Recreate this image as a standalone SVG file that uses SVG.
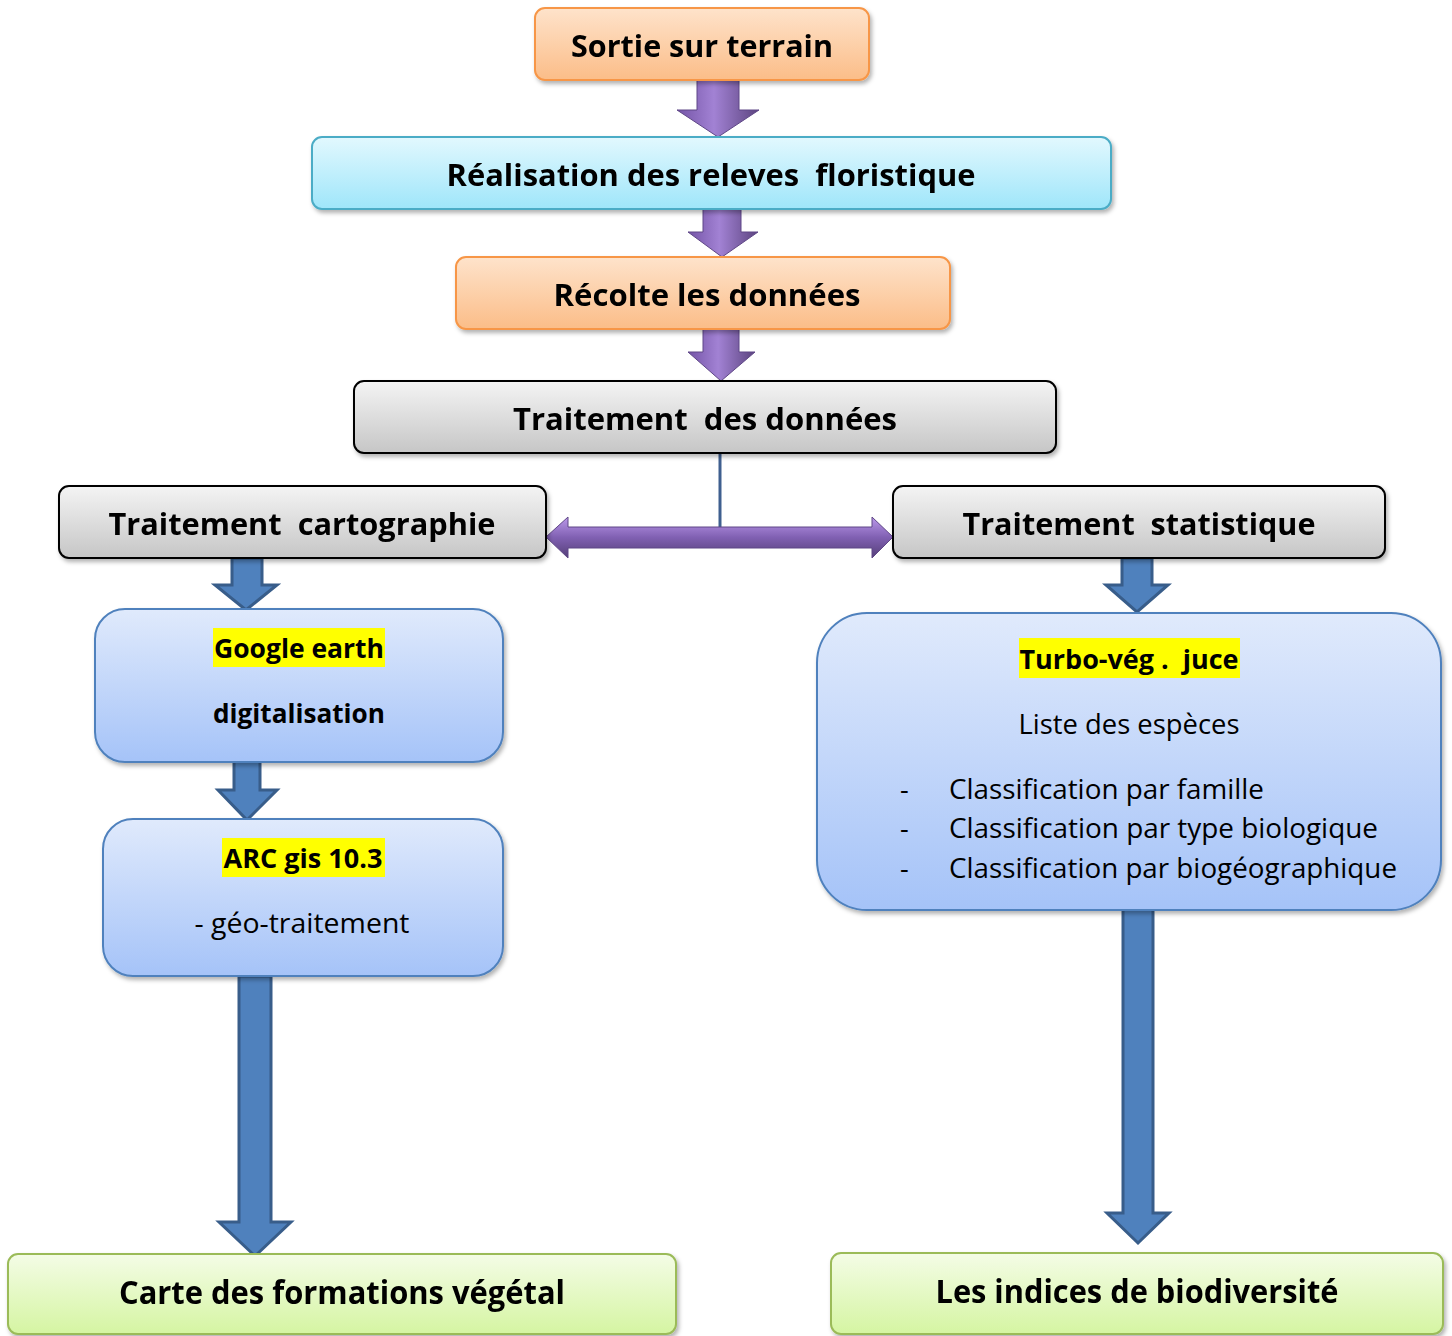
<svg xmlns="http://www.w3.org/2000/svg" width="1452" height="1336" viewBox="0 0 1452 1336">
<defs>
<linearGradient id="gOrange" x1="0" y1="0" x2="0" y2="1"><stop offset="0" stop-color="#fee3cb"/><stop offset="1" stop-color="#fbbd88"/></linearGradient>
<linearGradient id="gCyan" x1="0" y1="0" x2="0" y2="1"><stop offset="0" stop-color="#e2f8fe"/><stop offset="1" stop-color="#9fe6fa"/></linearGradient>
<linearGradient id="gGrey" x1="0" y1="0" x2="0" y2="1"><stop offset="0" stop-color="#f4f4f4"/><stop offset="1" stop-color="#c6c6c6"/></linearGradient>
<linearGradient id="gBlue" x1="0" y1="0" x2="0" y2="1"><stop offset="0" stop-color="#e0eafc"/><stop offset="1" stop-color="#a5c3f8"/></linearGradient>
<linearGradient id="gGreen" x1="0" y1="0" x2="0" y2="1"><stop offset="0" stop-color="#f4fce6"/><stop offset="1" stop-color="#d5f5a2"/></linearGradient>
<linearGradient id="gPurpleV" x1="0" y1="0" x2="1" y2="0"><stop offset="0" stop-color="#7454a6"/><stop offset="0.45" stop-color="#a282d4"/><stop offset="1" stop-color="#5c447f"/></linearGradient>
<linearGradient id="gPurpleH" x1="0" y1="0" x2="0" y2="1"><stop offset="0" stop-color="#bb98ea"/><stop offset="0.5" stop-color="#8060b2"/><stop offset="1" stop-color="#553f78"/></linearGradient>
<filter id="sh" x="-5%" y="-10%" width="110%" height="130%"><feDropShadow dx="2" dy="3" stdDeviation="2" flood-color="#000" flood-opacity="0.3"/></filter>
</defs>
<style>
.t{font-family:"Open Sans","Noto Sans","DejaVu Sans",sans-serif;fill:#000;white-space:pre}
.b{font-weight:bold}
.orange{fill:url(#gOrange);stroke:#f79646;stroke-width:2}
.cyan{fill:url(#gCyan);stroke:#4bacc6;stroke-width:2}
.grey{fill:url(#gGrey);stroke:#000;stroke-width:2}
.blue{fill:url(#gBlue);stroke:#4f81bd;stroke-width:2}
.green{fill:url(#gGreen);stroke:#9bbb59;stroke-width:2}
.pv{fill:url(#gPurpleV);stroke:#5f4787;stroke-width:1}
.ph{fill:url(#gPurpleH);stroke:#5f4787;stroke-width:1}
.ba{fill:#4f81bd;stroke:#385d8a;stroke-width:3}
.hl{fill:#ffff00}
</style>

<g id="connectors">
  <path class="pv" d="M697,80 H739 V110 H759 L718,137 L677,110 H697 Z"/>
  <path class="pv" d="M703,209 H741 V232 H758 L722,257 L688,232 H703 Z"/>
  <path class="pv" d="M703,329 H739 V352 H755 L721,381 L688,352 H703 Z"/>
  <line x1="720" y1="453" x2="720" y2="527" stroke="#3f5f8f" stroke-width="3"/>
  <path class="ph" d="M546,537 L568,517 V527 H872 V517 L893,537 L872,558 V548 H568 V558 Z"/>
  <path class="ba" d="M232,558 H262 V585 H277 L246,610 L215,585 H232 Z"/>
  <path class="ba" d="M234,760 H260 V790 H277 L247,820 L218,790 H234 Z"/>
  <path class="ba" d="M239,976 H271 V1222 H291 L255,1256 L219,1222 H239 Z"/>
  <path class="ba" d="M1122,558 H1152 V585 H1168 L1137,612 L1106,585 H1122 Z"/>
  <path class="ba" d="M1123,908 H1153 V1213 H1169 L1138,1243 L1107,1213 H1123 Z"/>
</g>

<g id="n-sortie" filter="url(#sh)">
  <rect class="orange" x="535" y="8" width="334" height="72" rx="10"/>
  <text class="t b" x="702" y="57" font-size="31" text-anchor="middle" textLength="262" lengthAdjust="spacingAndGlyphs">Sortie sur terrain</text>
</g>
<g id="n-realisation" filter="url(#sh)">
  <rect class="cyan" x="312" y="137" width="799" height="72" rx="10"/>
  <text class="t b" x="711" y="186" font-size="31" text-anchor="middle" textLength="529" lengthAdjust="spacingAndGlyphs">Réalisation des releves  floristique</text>
</g>
<g id="n-recolte" filter="url(#sh)">
  <rect class="orange" x="456" y="257" width="494" height="72" rx="10"/>
  <text class="t b" x="707" y="306" font-size="31" text-anchor="middle" textLength="307" lengthAdjust="spacingAndGlyphs">Récolte les données</text>
</g>
<g id="n-traitement" filter="url(#sh)">
  <rect class="grey" x="354" y="381" width="702" height="72" rx="10"/>
  <text class="t b" x="705" y="430" font-size="31" text-anchor="middle" textLength="384" lengthAdjust="spacingAndGlyphs">Traitement  des données</text>
</g>
<g id="n-carto" filter="url(#sh)">
  <rect class="grey" x="59" y="486" width="487" height="72" rx="10"/>
  <text class="t b" x="302" y="535" font-size="31" text-anchor="middle" textLength="387" lengthAdjust="spacingAndGlyphs">Traitement  cartographie</text>
</g>
<g id="n-stat" filter="url(#sh)">
  <rect class="grey" x="893" y="486" width="492" height="72" rx="10"/>
  <text class="t b" x="1139" y="535" font-size="31" text-anchor="middle" textLength="353" lengthAdjust="spacingAndGlyphs">Traitement  statistique</text>
</g>
<g id="n-google">
  <rect class="blue" x="95" y="609" width="408" height="153" rx="30" filter="url(#sh)"/>
  <rect class="hl" x="213" y="628" width="172" height="39"/>
  <text class="t b" x="299" y="658" font-size="27" text-anchor="middle" textLength="170" lengthAdjust="spacingAndGlyphs">Google earth</text>
  <text class="t b" x="299" y="723" font-size="27" text-anchor="middle" textLength="172" lengthAdjust="spacingAndGlyphs">digitalisation</text>
</g>
<g id="n-arcgis">
  <rect class="blue" x="103" y="819" width="400" height="157" rx="30" filter="url(#sh)"/>
  <rect class="hl" x="222" y="838" width="163" height="39"/>
  <text class="t b" x="303" y="868" font-size="27" text-anchor="middle" textLength="159" lengthAdjust="spacingAndGlyphs">ARC gis 10.3</text>
  <text class="t" x="302" y="933" font-size="27" text-anchor="middle" textLength="215" lengthAdjust="spacingAndGlyphs">- géo-traitement</text>
</g>
<g id="n-turbo">
  <rect class="blue" x="817" y="613" width="624" height="297" rx="50" filter="url(#sh)"/>
  <rect class="hl" x="1019" y="638" width="221" height="40"/>
  <text class="t b" x="1129" y="669" font-size="27" text-anchor="middle" textLength="219" lengthAdjust="spacingAndGlyphs">Turbo-vég .  juce</text>
  <text class="t" x="1129" y="734" font-size="27" text-anchor="middle" textLength="221" lengthAdjust="spacingAndGlyphs">Liste des espèces</text>
  <text class="t" x="900" y="799" font-size="27">-</text>
  <text class="t" x="949" y="799" font-size="27" textLength="315" lengthAdjust="spacingAndGlyphs">Classification par famille</text>
  <text class="t" x="900" y="838" font-size="27">-</text>
  <text class="t" x="949" y="838" font-size="27" textLength="429" lengthAdjust="spacingAndGlyphs">Classification par type biologique</text>
  <text class="t" x="900" y="878" font-size="27">-</text>
  <text class="t" x="949" y="878" font-size="27" textLength="448" lengthAdjust="spacingAndGlyphs">Classification par biogéographique</text>
</g>
<g id="n-carte" filter="url(#sh)">
  <rect class="green" x="8" y="1254" width="668" height="80" rx="10"/>
  <text class="t b" x="342" y="1304" font-size="32" text-anchor="middle" textLength="446" lengthAdjust="spacingAndGlyphs">Carte des formations végétal</text>
</g>
<g id="n-indices" filter="url(#sh)">
  <rect class="green" x="831" y="1253" width="612" height="81" rx="10"/>
  <text class="t b" x="1137" y="1303" font-size="32" text-anchor="middle" textLength="403" lengthAdjust="spacingAndGlyphs">Les indices de biodiversité</text>
</g>
</svg>
